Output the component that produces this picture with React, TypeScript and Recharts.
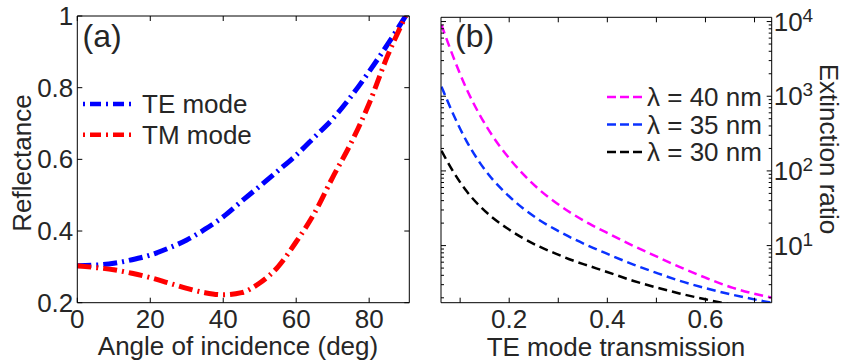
import { LineChart, Line, XAxis, YAxis, Legend, Label } from "recharts";

const FONT = "'Liberation Sans', Arial, Helvetica, sans-serif";
const INK = "#262626";

// ---- (a) reflectance vs angle of incidence ----
const angles = [0, 5, 10, 15, 20, 25, 30, 35, 40, 45, 50, 55, 60, 65, 70, 75, 80, 85, 90];
const teReflectance = [0.303, 0.305, 0.31, 0.32, 0.333, 0.352, 0.375, 0.405, 0.44, 0.483, 0.525, 0.568, 0.612, 0.662, 0.713, 0.775, 0.845, 0.92, 1.0];
const tmReflectance = [0.303, 0.298, 0.292, 0.282, 0.27, 0.255, 0.24, 0.228, 0.222, 0.228, 0.255, 0.3, 0.37, 0.45, 0.55, 0.645, 0.756, 0.888, 1.0];
const angleTicks = [0, 20, 40, 60, 80];
const reflectanceTicks = [0.2, 0.4, 0.6, 0.8, 1];
const modeKeys = ["te", "tm"];
const modeNames = ["TE mode", "TM mode"];
const modeColors = ["#0000ff", "#ff0000"];

// ---- (b) extinction ratio vs TE transmission ----
const transmission = [0.062, 0.086, 0.113, 0.14, 0.167, 0.195, 0.228, 0.262, 0.296, 0.33, 0.364, 0.398, 0.452, 0.5, 0.547, 0.6, 0.656, 0.734];
const ratio40 = [8995, 3365, 1259, 562, 288, 162, 91.2, 55.6, 37.2, 26.3, 19.5, 15.0, 10.0, 7.16, 5.19, 3.72, 2.72, 2.02];
const ratio35 = [1343, 575, 251, 129, 75.9, 49.0, 31.6, 21.9, 16.2, 12.4, 9.77, 7.85, 5.62, 4.32, 3.39, 2.69, 2.19, 1.72];
const ratio30 = [186, 97.7, 53.7, 33.9, 23.4, 17.2, 12.6, 9.66, 7.76, 6.31, 5.31, 4.47, 3.39, 2.75, 2.29, 1.91, 1.60, 1.32];
const transmissionTicks = [0.1, 0.2, 0.3, 0.4, 0.5, 0.6, 0.7];
const transmissionLabels = [0.2, 0.4, 0.6];
const ratioMajor = [10, 100, 1000, 10000];
const ratioTicks = [
  2, 3, 4, 5, 6, 7, 8, 9, 10,
  20, 30, 40, 50, 60, 70, 80, 90, 100,
  200, 300, 400, 500, 600, 700, 800, 900, 1000,
  2000, 3000, 4000, 5000, 6000, 7000, 8000, 9000, 10000,
];
const waveKeys = ["r40", "r35", "r30"];
const waveNames = ["λ = 40 nm", "λ = 35 nm", "λ = 30 nm"];
const waveColors = ["#ff00ff", "#0a32ff", "#000000"];

const modeData = angles.map((a, i) => ({ angle: a, te: teReflectance[i], tm: tmReflectance[i] }));
const ratioData = transmission.map((t, i) => ({ t, r40: ratio40[i], r35: ratio35[i], r30: ratio30[i] }));

const textStyle = { fontFamily: FONT, fontSize: 26, fill: INK };

// matlab-style tick: line drawn inward, optional label outside
function BoxTick(props: any) {
  const { x, y, payload, side, label, len } = props;
  const v = payload.value;
  const size = len ? len(v) : 5;
  const txt = label ? label(v) : null;
  let line = null;
  let text = null;
  if (side === "bottom") {
    line = <line x1={x} y1={y} x2={x} y2={y - size} />;
    if (txt !== null) text = <text x={x} y={y + 25} textAnchor="middle" {...textStyle}>{txt}</text>;
  } else if (side === "top") {
    line = <line x1={x} y1={y} x2={x} y2={y + size} />;
  } else if (side === "left") {
    line = <line x1={x} y1={y} x2={x + size} y2={y} />;
    if (txt !== null) text = <text x={x - 4} y={y + 9} textAnchor="end" {...textStyle}>{txt}</text>;
  } else {
    line = <line x1={x} y1={y} x2={x - size} y2={y} />;
    if (txt !== null) text = <text x={x + 2} y={y + 9} textAnchor="start" {...textStyle}>{txt}</text>;
  }
  return (
    <g>
      <g stroke="#000" strokeWidth={1}>{line}</g>
      {text}
    </g>
  );
}

const reflLabel = (v: number) => (v === 1 ? "1" : v.toFixed(1));
const angleLabel = (v: number) => String(v);
const transLabel = (v: number) => (transmissionLabels.includes(v) ? v.toFixed(1) : null);
const ratioLabel = (v: number) =>
  ratioMajor.includes(v) ? (
    <>
      10<tspan dy={-9} fontSize={19}>{Math.round(Math.log10(v))}</tspan>
    </>
  ) : null;
const ratioLen = (v: number) => (ratioMajor.includes(v) ? 5 : 3);

function ModeLegend() {
  return (
    <svg width={260} height={60} style={{ overflow: "visible" }}>
      {modeNames.map((name, i) => (
        <g key={name}>
          <line x1={0} x2={48} y1={12 + i * 30.7} y2={12 + i * 30.7} stroke={modeColors[i]} strokeWidth={4.5} strokeDasharray="2 5 11 5" />
          <text x={59} y={21 + i * 30.7} {...textStyle}>{name}</text>
        </g>
      ))}
    </svg>
  );
}

function WaveLegend() {
  return (
    <svg width={200} height={84} style={{ overflow: "visible" }}>
      {waveNames.map((name, i) => (
        <g key={name}>
          <line x1={0} x2={36} y1={12 + i * 27.5} y2={12 + i * 27.5} stroke={waveColors[i]} strokeWidth={2.3} strokeDasharray="9 4" />
          <text x={40} y={21 + i * 27.5} {...textStyle}>{name}</text>
        </g>
      ))}
    </svg>
  );
}

export default function App() {
  return (
    <div style={{ position: "fixed", left: 0, top: 0, width: 844, height: 364, background: "#fff" }}>
      <div style={{ position: "absolute", left: 0, top: 0 }}>
        <LineChart width={430} height={364} data={modeData} margin={{ top: 15, right: 19.7, bottom: 21.3, left: 0 }}>
          <XAxis dataKey="angle" type="number" domain={[0, 91]} allowDataOverflow ticks={angleTicks} interval={0}
            height={40} tickSize={0} tickMargin={0} tickLine={false} axisLine={{ stroke: "#000" }}
            tick={<BoxTick side="bottom" label={angleLabel} />}>
            <Label content={() => <text x={238} y={355} textAnchor="middle" {...textStyle}>Angle of incidence (deg)</text>} />
          </XAxis>
          <XAxis xAxisId="top" dataKey="angle" orientation="top" type="number" domain={[0, 91]} allowDataOverflow ticks={angleTicks} interval={0}
            height={1} tickSize={0} tickMargin={0} tickLine={false} axisLine={{ stroke: "#000" }}
            tick={<BoxTick side="top" />}>
            <Label content={() => <text x={82.5} y={47} fontFamily={FONT} fontSize={32} fill={INK}>(a)</text>} />
          </XAxis>
          <YAxis type="number" domain={[0.2, 1]} allowDataOverflow ticks={reflectanceTicks} interval={0}
            width={77.3} tickSize={0} tickMargin={0} tickLine={false} axisLine={{ stroke: "#000" }}
            tick={<BoxTick side="left" label={reflLabel} />}>
            <Label content={() => <text x={22} y={163} textAnchor="middle" dominantBaseline="central" transform="rotate(-90 22 163)" {...textStyle}>Reflectance</text>} />
          </YAxis>
          <YAxis yAxisId="right" orientation="right" type="number" domain={[0.2, 1]} allowDataOverflow ticks={reflectanceTicks} interval={0}
            width={1} tickSize={0} tickMargin={0} tickLine={false} axisLine={{ stroke: "#000" }}
            tick={<BoxTick side="right" />} />
          {modeKeys.map((k, i) => (
            <Line key={k} dataKey={k} name={modeNames[i]} type="monotone" stroke={modeColors[i]} strokeWidth={5}
              strokeDasharray="14 5 2 5" dot={false} activeDot={false} isAnimationActive={false} />
          ))}
          <Legend layout="horizontal" verticalAlign="middle" align="center" content={() => <ModeLegend />}
            wrapperStyle={{ left: 82.7, top: 92.3, width: 260, height: 60 }} />
        </LineChart>
      </div>
      <div style={{ position: "absolute", left: 430, top: 0 }}>
        <LineChart width={414} height={364} data={ratioData} margin={{ top: 16.3, right: 32.3, bottom: 21.3, left: 10 }}>
          <XAxis dataKey="t" type="number" domain={[0.061, 0.735]} allowDataOverflow ticks={transmissionTicks} interval={0}
            height={40} tickSize={0} tickMargin={0} tickLine={false} axisLine={{ stroke: "#000" }}
            tick={<BoxTick side="bottom" label={transLabel} />}>
            <Label content={() => <text x={186} y={356} textAnchor="middle" {...textStyle}>TE mode transmission</text>} />
          </XAxis>
          <XAxis xAxisId="top" dataKey="t" orientation="top" type="number" domain={[0.061, 0.735]} allowDataOverflow ticks={transmissionTicks} interval={0}
            height={1} tickSize={0} tickMargin={0} tickLine={false} axisLine={{ stroke: "#000" }}
            tick={<BoxTick side="top" />}>
            <Label content={() => <text x={25} y={47} fontFamily={FONT} fontSize={32} fill={INK}>(b)</text>} />
          </XAxis>
          <YAxis type="number" scale="log" domain={[1.72, 11400]} allowDataOverflow ticks={ratioTicks} interval={0}
            width={1} tickSize={0} tickMargin={0} tickLine={false} axisLine={{ stroke: "#000" }}
            tick={<BoxTick side="left" len={ratioLen} />} />
          <YAxis yAxisId="right" orientation="right" type="number" scale="log" domain={[1.72, 11400]} allowDataOverflow ticks={ratioTicks} interval={0}
            width={40} tickSize={0} tickMargin={0} tickLine={false} axisLine={{ stroke: "#000" }}
            tick={<BoxTick side="right" len={ratioLen} label={ratioLabel} />}>
            <Label content={() => <text x={399} y={149} textAnchor="middle" dominantBaseline="central" transform="rotate(90 399 149)" {...textStyle}>Extinction ratio</text>} />
          </YAxis>
          {waveKeys.map((k, i) => (
            <Line key={k} dataKey={k} name={waveNames[i]} type="monotone" stroke={waveColors[i]} strokeWidth={2.5}
              strokeDasharray="9 5" dot={false} activeDot={false} isAnimationActive={false} />
          ))}
          <Legend layout="horizontal" verticalAlign="middle" align="center" content={() => <WaveLegend />}
            wrapperStyle={{ left: 176.7, top: 84.7, width: 200, height: 84 }} />
        </LineChart>
      </div>
    </div>
  );
}
